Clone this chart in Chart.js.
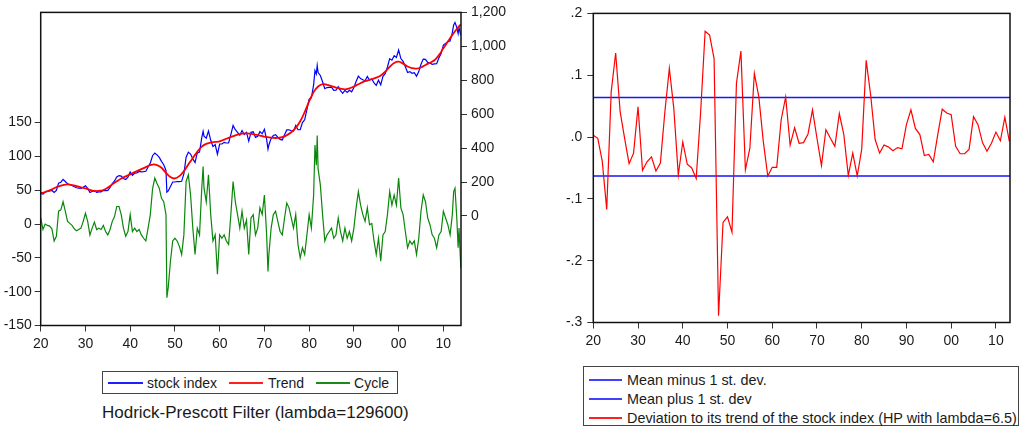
<!DOCTYPE html>
<html>
<head>
<meta charset="utf-8">
<script src="https://cdn.jsdelivr.net/npm/chart.js@4/dist/chart.umd.min.js"></script>
<style>
  body { margin: 0; background: #fff; font-family: "Liberation Sans", Arial, sans-serif; color: #1a1a1a; }
  #wrap { position: relative; width: 1021px; height: 428px; overflow: hidden; }
  canvas { position: absolute; top: 0; }
  .legend { position: absolute; border: 1px solid #444; box-sizing: border-box; font-size: 14px; }
  .row { display: flex; align-items: center; white-space: nowrap; }
  .swatch { display: inline-block; height: 2px; }
  .title { position: absolute; font-size: 17px; white-space: nowrap; }
</style>
</head>
<body>
<div id="wrap">
  <canvas id="hpChart" width="530" height="360" style="left:0"></canvas>
  <canvas id="devChart" width="481" height="360" style="left:540px"></canvas>

  <div class="legend" style="left:102px;top:371px;width:296px;height:23px;">
    <div class="row" style="height:21px;padding-left:5px;">
      <span class="swatch" style="width:35px;background:#2020ff;margin-right:4px"></span><span>stock index</span>
      <span class="swatch" style="width:34px;background:#ff2020;margin:0 5px 0 12px"></span><span>Trend</span>
      <span class="swatch" style="width:34px;background:#1a8a1a;margin:0 4px 0 12px"></span><span>Cycle</span>
    </div>
  </div>
  <div class="title" style="left:102px;top:403px;">Hodrick-Prescott Filter (lambda=129600)</div>

  <div class="legend" style="left:583px;top:366px;width:436px;height:60px;padding-top:3px;font-size:14.4px;">
    <div class="row" style="height:19px;padding-left:5px;"><span class="swatch" style="width:33px;background:#4040ff;margin-right:5px"></span><span>Mean minus 1 st. dev.</span></div>
    <div class="row" style="height:19px;padding-left:5px;"><span class="swatch" style="width:33px;background:#4040ff;margin-right:5px"></span><span>Mean plus 1 st. dev</span></div>
    <div class="row" style="height:19px;padding-left:5px;"><span class="swatch" style="width:33px;background:#ff2020;margin-right:5px"></span><span>Deviation to its trend of the stock index (HP with lambda=6.5)</span></div>
  </div>
</div>

<script>
// left panel: stock index, HP trend (right axis) and cycle (left axis)
const hpYears = [
  1920, 1920.5, 1921, 1921.5, 1922, 1922.5, 1923, 1923.5, 1924, 1924.5, 1925, 1925.5, 1926, 1926.5, 1927, 1927.5, 1928, 1928.5, 1929, 1929.5,
  1930, 1930.5, 1931, 1931.5, 1932, 1932.5, 1933, 1933.5, 1934, 1934.5, 1935, 1935.5, 1936, 1936.5, 1937, 1937.5, 1938, 1938.5, 1939, 1939.5,
  1940, 1940.5, 1941, 1941.5, 1942, 1942.5, 1943, 1943.5, 1944, 1944.5, 1945, 1945.5, 1946, 1946.5, 1947, 1947.5, 1948, 1948.2, 1948.5, 1949, 1949.5,
  1950, 1950.5, 1951, 1951.5, 1952, 1952.5, 1953, 1953.5, 1954, 1954.5, 1955, 1955.5, 1956, 1956.3, 1956.5, 1957, 1957.5, 1958, 1958.5, 1959, 1959.5,
  1960, 1960.5, 1961, 1961.5, 1962, 1962.5, 1963, 1963.5, 1964, 1964.5, 1965, 1965.5, 1966, 1966.5, 1967, 1967.5, 1968, 1968.5, 1969, 1969.5,
  1970, 1970.5, 1970.8, 1971, 1971.5, 1972, 1972.5, 1973, 1973.5, 1974, 1974.5, 1975, 1975.5, 1976, 1976.5, 1977, 1977.5, 1978, 1978.5, 1979, 1979.5,
  1980, 1980.5, 1981, 1981.3, 1981.6, 1981.8, 1982, 1982.5, 1983, 1983.5, 1984, 1984.5, 1985, 1985.5, 1986, 1986.5, 1987, 1987.5, 1988, 1988.5, 1989, 1989.5,
  1990, 1990.5, 1991, 1991.5, 1992, 1992.5, 1993, 1993.5, 1994, 1994.5, 1995, 1995.5, 1996, 1996.5, 1997, 1997.5, 1998, 1998.5, 1999, 1999.5,
  2000, 2000.5, 2001, 2001.5, 2002, 2002.5, 2003, 2003.5, 2004, 2004.5, 2005, 2005.5, 2006, 2006.5, 2007, 2007.5, 2008, 2008.5, 2009, 2009.5,
  2010, 2010.5, 2011, 2011.5, 2012, 2012.3, 2012.6, 2013, 2013.3, 2013.5, 2013.9
];
const stockIndex = [
  140, 128, 141, 144, 148, 150, 138, 150, 193, 199, 215, 203, 190, 185, 180, 172, 166, 164, 163, 169,
  178, 162, 138, 144, 150, 139, 142, 142, 151, 149, 151, 168, 190, 206, 230, 238, 235, 221, 215, 228,
  259, 240, 252, 253, 262, 260, 261, 263, 288, 312, 355, 370, 360, 345, 322, 302, 268, 140, 147, 174, 200,
  200, 203, 202, 204, 248, 346, 376, 365, 336, 315, 372, 377, 462, 499, 470, 458, 501, 446, 409, 420, 364,
  424, 424, 434, 430, 430, 479, 533, 508, 493, 476, 504, 480, 493, 441, 493, 496, 463, 470, 497, 484,
  511, 450, 394, 418, 456, 474, 479, 464, 451, 448, 479, 507, 508, 502, 500, 533, 508, 508, 550, 567, 627,
  689, 696, 773, 857, 837, 887, 845, 828, 791, 750, 757, 758, 759, 740, 741, 762, 739, 723, 740, 728, 741, 732,
  757, 793, 824, 810, 803, 797, 822, 801, 807, 785, 770, 800, 773, 823, 839, 878, 927, 918, 945, 934,
  978, 928, 912, 879, 846, 851, 841, 845, 824, 851, 894, 925, 923, 905, 902, 894, 897, 898, 932, 957,
  1007, 1017, 1027, 1031, 1081, 1126, 1141, 1111, 1075, 1110, 1064
];
const cycle = [
  9, -8, 0, -2, -3, -7, -25, -18, 19, 21, 33, 19, 4, 1, -2, -7, -10, -8, -6, 4,
  16, 4, -16, -6, 3, -8, -6, -8, -2, -11, -16, -8, 4, 11, 26, 26, 14, -6, -18, -11,
  14, -11, -6, -11, -8, -16, -21, -25, -6, 14, 52, 68, 60, 53, 38, 33, 14, -109, -94, -55, -25,
  -21, -25, -33, -45, -16, 63, 73, 43, -6, -45, -6, -16, 53, 85, 53, 33, 73, 14, -25, -16, -74,
  -16, -21, -16, -25, -30, 14, 63, 33, 14, -6, 19, -6, 6, -45, 9, 14, -16, -6, 24, 14,
  43, -16, -70, -45, -6, 14, 19, 4, -11, -16, 9, 31, 24, 9, -6, 14, -30, -50, -35, -45, -16,
  14, -6, 43, 117, 87, 131, 82, 58, 14, -25, -16, -11, -6, -21, -16, 9, -11, -25, -6, -21, -11, -25,
  -6, 24, 48, 28, 14, 4, 24, -1, 1, -25, -45, -21, -55, -16, -11, 14, 48, 28, 43, 28,
  68, 24, 14, -11, -35, -25, -30, -25, -45, -21, 19, 43, 33, 9, -1, -16, -21, -35, -16, -11,
  19, 9, -1, -16, 14, 48, 53, 9, -35, -6, -65
];
const trendYears = [
  1920, 1921, 1922, 1923, 1924, 1925, 1926, 1927, 1928, 1929,
  1930, 1931, 1932, 1933, 1934, 1935, 1936, 1937, 1938, 1939,
  1940, 1941, 1942, 1943, 1944, 1945, 1946, 1947, 1948, 1949,
  1950, 1951, 1952, 1953, 1954, 1955, 1956, 1957, 1958, 1959,
  1960, 1961, 1962, 1963, 1964, 1965, 1966, 1967, 1968, 1969,
  1970, 1971, 1972, 1973, 1974, 1975, 1976, 1977, 1978, 1979,
  1980, 1981, 1982, 1983, 1984, 1985, 1986, 1987, 1988, 1989,
  1990, 1991, 1992, 1993, 1994, 1995, 1996, 1997, 1998, 1999,
  2000, 2001, 2002, 2003, 2004, 2005, 2006, 2007, 2008, 2009,
  2010, 2011, 2012, 2013, 2013.9
];
const trend = [
  131, 141, 151, 163, 174, 182, 186, 182, 176, 169,
  162, 154, 147, 148, 153, 167, 186, 204, 221, 233,
  245, 258, 270, 282, 294, 303, 300, 284, 254, 229,
  221, 235, 264, 303, 342, 378, 409, 425, 432, 436,
  440, 450, 460, 470, 479, 485, 487, 484, 479, 473,
  468, 463, 460, 460, 464, 476, 493, 519, 558, 612,
  675, 730, 763, 777, 773, 765, 757, 750, 746, 752,
  763, 776, 789, 798, 806, 815, 828, 850, 879, 902,
  910, 898, 881, 871, 869, 875, 890, 903, 918, 948,
  988, 1028, 1067, 1102, 1129
];
const hpXTicks = [1920, 1930, 1940, 1950, 1960, 1970, 1980, 1990, 2000, 2010];
const cycleTicks = [-150, -100, -50, 0, 50, 100, 150];
const indexTicks = [0, 200, 400, 600, 800, 1000, 1200];

// right panel: annual deviation from HP trend (lambda=6.5)
const devYears = [
  1920, 1921, 1922, 1923, 1924, 1925, 1926, 1927, 1928, 1929,
  1930, 1931, 1932, 1933, 1934, 1935, 1936, 1937, 1938, 1939,
  1940, 1941, 1942, 1943, 1944, 1945, 1946, 1947, 1948, 1949,
  1950, 1951, 1952, 1953, 1954, 1955, 1956, 1957, 1958, 1959,
  1960, 1961, 1962, 1963, 1964, 1965, 1966, 1967, 1968, 1969,
  1970, 1971, 1972, 1973, 1974, 1975, 1976, 1977, 1978, 1979,
  1980, 1981, 1982, 1983, 1984, 1985, 1986, 1987, 1988, 1989,
  1990, 1991, 1992, 1993, 1994, 1995, 1996, 1997, 1998, 1999,
  2000, 2001, 2002, 2003, 2004, 2005, 2006, 2007, 2008, 2009,
  2010, 2011, 2012, 2013
];
const deviation = [
  0.003, -0.002, -0.039, -0.117, 0.073, 0.136, 0.041, -0.002, -0.043, -0.026,
  0.049, -0.054, -0.040, -0.032, -0.055, -0.042, 0.041, 0.111, 0.046, -0.061,
  -0.008, -0.044, -0.050, -0.067, 0.041, 0.171, 0.165, 0.127, -0.289, -0.138,
  -0.129, -0.154, 0.087, 0.139, -0.053, -0.018, 0.103, 0.065, -0.007, -0.063,
  -0.049, -0.049, 0.028, 0.065, -0.013, 0.015, -0.010, -0.009, 0.005, 0.044,
  -0.002, -0.046, 0.012, -0.002, -0.015, 0.038, 0.004, -0.062, -0.026, -0.063,
  -0.020, 0.124, 0.068, -0.004, -0.026, -0.013, -0.016, -0.022, -0.017, -0.019,
  0.020, 0.044, 0.014, 0.004, -0.030, -0.028, -0.040, 0.004, 0.045, 0.039,
  0.036, -0.015, -0.027, -0.027, -0.020, 0.033, 0.020, -0.009, -0.023, -0.010,
  0.008, -0.006, 0.032, -0.007
];
const meanMinusSd = -0.063;
const meanPlusSd = 0.064;
const devXTicks = [1920, 1930, 1940, 1950, 1960, 1970, 1980, 1990, 2000, 2010];
const devYTicks = [-0.3, -0.2, -0.1, 0, 0.1, 0.2];

const FONT = { family: "'Liberation Sans', Arial, sans-serif", size: 14 };
const TXT = '#1a1a1a';

// full black frame round the plot area, like EViews
const framePlugin = {
    id: 'frame',
    afterDatasetsDraw(chart) {
        const { ctx, chartArea: a } = chart;
        ctx.save();
        ctx.strokeStyle = '#111';
        ctx.lineWidth = 1.5;
        ctx.strokeRect(a.left, a.top, a.right - a.left, a.bottom - a.top);
        ctx.restore();
    }
};

const yearLabel = v => String(v % 100).padStart(2, '0');
const pairs = (xs, ys) => xs.map((x, i) => ({ x: x, y: ys[i] }));

const axisBase = (ticks, size) => ({
    afterBuildTicks: s => { s.ticks = ticks.map(v => ({ value: v })); },
    grid: { drawOnChartArea: false, tickLength: 6, tickColor: '#333', lineWidth: 1 },
    border: { display: false },
    afterFit: s => {
        if (s.isHorizontal()) s.height = size; else s.width = size;
    }
});

new Chart(document.getElementById('hpChart'), {
    type: 'line',
    data: {
        datasets: [
            {
                label: 'Trend', data: pairs(trendYears, trend), yAxisID: 'y2',
                borderColor: '#ff0000', borderWidth: 1.8, tension: 0.4, pointRadius: 0
            },
            {
                label: 'stock index', data: pairs(hpYears, stockIndex), yAxisID: 'y2',
                borderColor: '#0000ff', borderWidth: 1.2, tension: 0, pointRadius: 0
            },
            {
                label: 'Cycle', data: pairs(hpYears, cycle), yAxisID: 'y',
                borderColor: '#0a870a', borderWidth: 1.2, tension: 0, pointRadius: 0
            }
        ]
    },
    options: {
        responsive: false,
        animation: false,
        layout: { padding: { top: 10, left: 0, right: 0, bottom: 0 } },
        plugins: { legend: { display: false }, tooltip: { enabled: false } },
        scales: {
            x: {
                type: 'linear', min: 1920, max: 2013.94,
                ...axisBase(hpXTicks, 34.5),
                ticks: { callback: yearLabel, autoSkip: false, maxRotation: 0, font: FONT, color: TXT, padding: 4 }
            },
            y: {
                position: 'left', min: -150, max: 313,
                ...axisBase(cycleTicks, 40.7),
                ticks: { font: FONT, color: TXT, padding: 3 }
            },
            y2: {
                position: 'right', min: -646, max: 1200,
                ...axisBase(indexTicks, 69),
                ticks: { callback: v => v.toLocaleString('en-US'), font: FONT, color: TXT, padding: 4 }
            }
        }
    },
    plugins: [framePlugin]
});

new Chart(document.getElementById('devChart'), {
    type: 'line',
    data: {
        datasets: [
            {
                label: 'Deviation to its trend of the stock index (HP with lambda=6.5)',
                data: pairs(devYears, deviation),
                borderColor: '#ff0000', borderWidth: 1.2, tension: 0, pointRadius: 0
            },
            {
                label: 'Mean minus 1 st. dev.',
                data: [{ x: devYears[0], y: meanMinusSd }, { x: 2013.15, y: meanMinusSd }],
                borderColor: '#1515ff', borderWidth: 1.5, pointRadius: 0
            },
            {
                label: 'Mean plus 1 st. dev',
                data: [{ x: devYears[0], y: meanPlusSd }, { x: 2013.15, y: meanPlusSd }],
                borderColor: '#1515ff', borderWidth: 1.5, pointRadius: 0
            }
        ]
    },
    options: {
        responsive: false,
        animation: false,
        layout: { padding: { top: 11, left: 0, right: 11, bottom: 0 } },
        plugins: { legend: { display: false }, tooltip: { enabled: false } },
        scales: {
            x: {
                type: 'linear', min: 1920, max: 2013.15,
                ...axisBase(devXTicks, 37.5),
                ticks: { callback: yearLabel, autoSkip: false, maxRotation: 0, font: FONT, color: TXT, padding: 4 }
            },
            y: {
                position: 'left', min: -0.3, max: 0.2,
                ...axisBase(devYTicks, 53.3),
                ticks: {
                    callback: v => v.toFixed(1).replace('0.', '.'),
                    font: FONT, color: TXT, padding: 5
                }
            }
        }
    },
    plugins: [framePlugin]
});
</script>
</body>
</html>
